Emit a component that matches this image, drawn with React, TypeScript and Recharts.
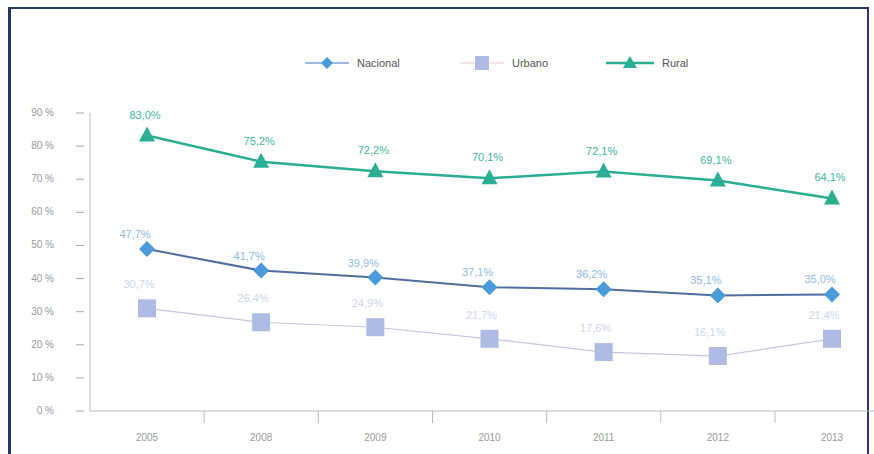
import React from "react";
import { LineChart, Line, XAxis, YAxis, LabelList } from "recharts";

const years = ["2005", "2008", "2009", "2010", "2011", "2012", "2013"];
const nacional = [48.9, 42.4, 40.3, 37.4, 36.8, 34.9, 35.2];
const urbano = [31.0, 26.8, 25.3, 21.8, 17.8, 16.6, 21.8];
const rural = [83.2, 75.3, 72.4, 70.3, 72.3, 69.6, 64.2];
const nacionalLabels = ["47,7%", "41,7%", "39,9%", "37,1%", "36,2%", "35,1%", "35,0%"];
const urbanoLabels = ["30,7%", "26,4%", "24,9%", "21,7%", "17,6%", "16,1%", "21,4%"];
const ruralLabels = ["83,0%", "75,2%", "72,2%", "70,1%", "72,1%", "69,1%", "64,1%"];
const yTicks = [0, 10, 20, 30, 40, 50, 60, 70, 80, 90];

const data = years.map((year, i) => ({
  year,
  nacional: nacional[i],
  urbano: urbano[i],
  rural: rural[i],
  nLabel: nacionalLabels[i],
  uLabel: urbanoLabels[i],
  rLabel: ruralLabels[i],
}));

const FONT = "'Liberation Sans', Arial, sans-serif";
const RURAL = "#2aae94";
const NAC_LINE = "#4f6f9f";
const NAC_DOT = "#4a9bd9";
const URB_DOT = "#aebbe3";
const URB_LINE = "#c2c8dc";

const BAND = 114;

const Diamond = ({ cx, cy }: any) => (
  <path d={`M${cx},${cy - 8} L${cx + 8},${cy} L${cx},${cy + 8} L${cx - 8},${cy} Z`} fill={NAC_DOT} />
);
const Square = ({ cx, cy }: any) => (
  <rect x={cx - 9} y={cy - 9} width={18} height={18} fill={URB_DOT} />
);
const Triangle = ({ cx, cy }: any) => (
  <path d={`M${cx},${cy - 9} L${cx + 8},${cy + 6} L${cx - 8},${cy + 6} Z`} fill={RURAL} />
);

const XTick = ({ x, y, payload, index }: any) => (
  <g>
    {index > 0 && (
      <line x1={x - BAND / 2} y1={y - 8} x2={x - BAND / 2} y2={y + 4} stroke="#bbb" />
    )}
    <text x={x} y={y + 22} textAnchor="middle" fontSize={10} fill="#9a9a9a" fontFamily={FONT}>
      {payload.value}
    </text>
  </g>
);

const YTick = ({ x, y, payload }: any) => (
  <g>
    <line x1={x - 6} y1={y} x2={x + 2} y2={y} stroke="#aaa" />
    <text x={x - 28} y={y + 3} textAnchor="end" fontSize={10} fill="#9a9a9a" fontFamily={FONT}>
      {payload.value + " %"}
    </text>
  </g>
);

const makeLabel = (color: string, dx: number, dy: number) => (props: any) => {
  const { x, y, value } = props;
  return (
    <text x={x + dx} y={y + dy} textAnchor="middle" fontSize={11} fill={color} fontFamily={FONT}>
      {value}
    </text>
  );
};

const legendItems = [
  { name: "Nacional", color: NAC_LINE, shape: "diamond", left: 305 },
  { name: "Urbano", color: URB_LINE, shape: "square", left: 460 },
  { name: "Rural", color: RURAL, shape: "triangle", left: 606 },
];

const LegendMark = ({ shape }: { shape: string }) => {
  if (shape === "diamond")
    return (
      <svg width={44} height={16}>
        <line x1={0} y1={8} x2={44} y2={8} stroke="#7fa6d6" strokeWidth={1.5} />
        <path d="M22,2 L28,8 L22,14 L16,8 Z" fill={NAC_DOT} />
      </svg>
    );
  if (shape === "square")
    return (
      <svg width={44} height={16}>
        <line x1={0} y1={8} x2={44} y2={8} stroke="#e6c8cc" strokeWidth={1} />
        <rect x={15} y={1} width={14} height={14} fill={URB_DOT} />
      </svg>
    );
  return (
    <svg width={48} height={16}>
      <line x1={0} y1={8} x2={48} y2={8} stroke={RURAL} strokeWidth={2.5} />
      <path d="M24,1 L31,13 L17,13 Z" fill={RURAL} />
    </svg>
  );
};

export default function App() {
  return (
    <div
      style={{
        position: "fixed",
        left: 0,
        top: 0,
        width: 874,
        height: 454,
        overflow: "hidden",
        background: "#fff",
        fontFamily: FONT,
      }}
    >
      <div
        style={{
          position: "absolute",
          left: 8,
          top: 7,
          width: 856,
          height: 460,
          borderTop: "2px solid #2b3668",
          borderLeft: "3px solid #2b3668",
          borderRight: "2px solid #2b3668",
        }}
      />
      {legendItems.map((it) => (
        <div
          key={it.name}
          style={{
            position: "absolute",
            left: it.left,
            top: 55,
            display: "flex",
            alignItems: "center",
            gap: 8,
            fontSize: 11,
            color: "#555",
          }}
        >
          <LegendMark shape={it.shape} />
          <span>{it.name}</span>
        </div>
      ))}
      <div style={{ position: "absolute", left: 0, top: 0 }}>
        <LineChart
          width={900}
          height={454}
          data={data}
          margin={{ top: 113, right: 11, bottom: 0, left: 0 }}
        >
          <XAxis
            dataKey="year"
            height={43}
            tick={<XTick />}
            tickLine={false}
            axisLine={{ stroke: "#bbb" }}
            interval={0}
            padding={{ left: 57, right: 57 }}
          />
          <YAxis
            width={90}
            domain={[0, 90]}
            ticks={yTicks}
            tick={<YTick />}
            tickLine={false}
            axisLine={{ stroke: "#bbb" }}
          />
          <Line
            dataKey="urbano"
            stroke={URB_LINE}
            strokeWidth={1.2}
            dot={<Square />}
            isAnimationActive={false}
          >
            <LabelList dataKey="uLabel" content={makeLabel("#cdd4ea", -8, -20)} />
          </Line>
          <Line
            dataKey="nacional"
            stroke={NAC_LINE}
            strokeWidth={2}
            dot={<Diamond />}
            isAnimationActive={false}
          >
            <LabelList dataKey="nLabel" content={makeLabel("#8fbbe2", -12, -11)} />
          </Line>
          <Line
            dataKey="rural"
            stroke={RURAL}
            strokeWidth={2.5}
            dot={<Triangle />}
            isAnimationActive={false}
          >
            <LabelList dataKey="rLabel" content={makeLabel("#3fb9a2", -2, -17)} />
          </Line>
        </LineChart>
      </div>
    </div>
  );
}
